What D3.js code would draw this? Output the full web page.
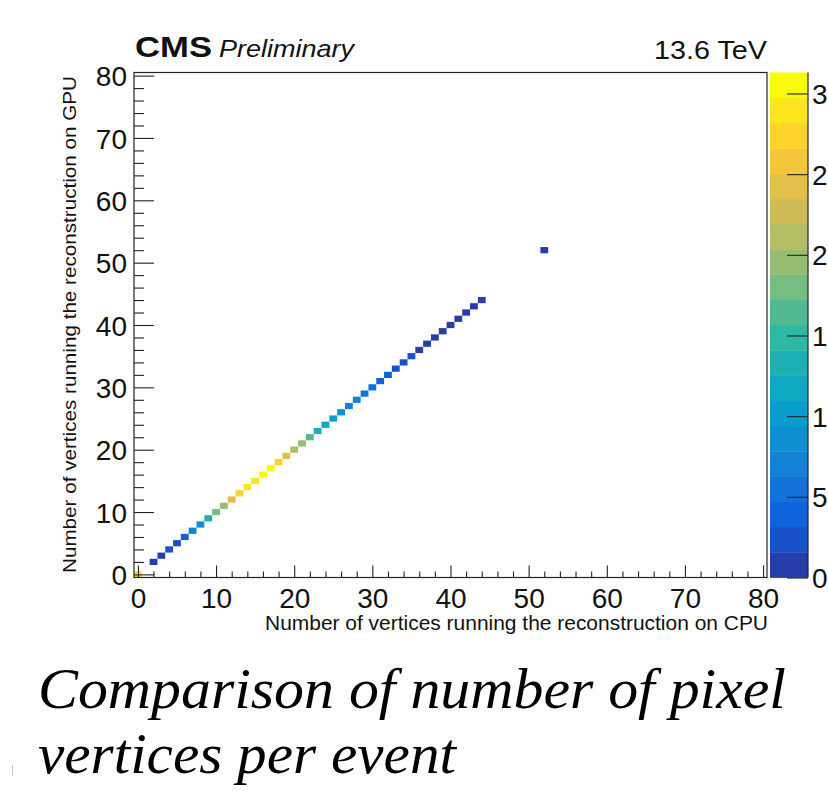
<!DOCTYPE html>
<html>
<head>
<meta charset="utf-8">
<script src="https://cdn.jsdelivr.net/npm/d3@7"></script>
<style>
  html, body { margin: 0; padding: 0; background: #fff; }
  svg { display: block; }
</style>
</head>
<body>
<svg id="chart" width="828" height="791"></svg>
<script>
// ---------------- data ----------------
const cpuBins = [0, 2, 3, 4, 5, 6, 7, 8, 9, 10, 11, 12, 13, 14, 15, 16, 17, 18, 19, 20, 21, 22, 23,
                 24, 25, 26, 27, 28, 29, 30, 31, 32, 33, 34, 35, 36, 37, 38, 39, 40, 41, 42, 43, 44, 52];
const gpuBins = [0, 2, 3, 4, 5, 6, 7, 8, 9, 10, 11, 12, 13, 14, 15, 16, 17, 18, 19, 20, 21, 22, 23,
                 24, 25, 26, 27, 28, 29, 30, 31, 32, 33, 34, 35, 36, 37, 38, 39, 40, 41, 42, 43, 44, 52];
const counts  = [29.5, 0.8, 1.2, 1.8, 2.6, 3.6, 6.7, 8.5, 13.0, 17.5, 19.5, 24.2, 27.5, 29.0, 29.5, 30.5,
                 31.0, 27.8, 24.5, 21.5, 19.6, 16.5, 13.5, 11.8, 10.2, 8.6, 7.2, 6.5, 5.6, 5.0, 4.2,
                 3.3, 2.8, 2.2, 1.7, 1.4, 1.3, 1.2, 1.1, 1.0, 0.9, 0.8, 0.8, 0.7, 0.5];
const xTicks = [0, 10, 20, 30, 40, 50, 60, 70, 80];
const yTicks = [0, 10, 20, 30, 40, 50, 60, 70, 80];
const zTicks = [0, 5, 10, 15, 20, 25, 30];
const zTickLabels = ["0", "5", "10", "15", "20", "25", "30"];
const zMax = 31.3;
const nLevels = 20;
const xTitle = "Number of vertices running the reconstruction on CPU";
const yTitle = "Number of vertices running the reconstruction on GPU";
const captionLines = ["Comparison of number of pixel", "vertices per event"];

// ROOT "kBird" palette
const birdStops = [0, 0.125, 0.25, 0.375, 0.5, 0.625, 0.75, 0.875, 1];
const birdColors = ["#352a87", "#0f5cdd", "#1481d6", "#06a4ca", "#2eb7a4", "#87bf77", "#d1bb59", "#fec832", "#f9fb0e"];

// ---------------- layout ----------------
const SANS = "'Liberation Sans', Arial, Helvetica, sans-serif";
const SERIF = "'Liberation Serif', 'Times New Roman', serif";
const svg = d3.select("#chart");
const L = 134, R = 767, T = 72.5, B = 577.5;
const cbL = 770, cbR = 808;

const x = d3.scaleLinear().domain([-0.5, 80.5]).range([L, R]);
const y = d3.scaleLinear().domain([-0.5, 80.5]).range([B, T]);
const z = d3.scaleLinear().domain([0, zMax]).range([B, T]);
const bird = d3.scaleLinear().domain(birdStops).range(birdColors).interpolate(d3.interpolateRgb);
const levelW = zMax / nLevels;
const levelColor = k => bird((k + 0.99) / nLevels);
const valueColor = v => levelColor(Math.min(nLevels - 1, Math.floor(v / levelW)));

svg.append("rect").attr("width", 828).attr("height", 791).attr("fill", "#fff");

// ---------------- cells ----------------
const cells = cpuBins.map((c, i) => ({ cx: c, cy: gpuBins[i], v: counts[i] }));
svg.append("g").selectAll("rect").data(cells).join("rect")
  .attr("x", d => x(d.cx - 0.5))
  .attr("y", d => y(d.cy + 0.5))
  .attr("width", d => x(d.cx + 0.5) - x(d.cx - 0.5))
  .attr("height", d => y(d.cy - 0.5) - y(d.cy + 0.5))
  .attr("fill", d => valueColor(d.v));

// ---------------- axes ----------------
function styleAxis(g) {
  g.select(".domain").remove();
  g.selectAll("line").attr("stroke", "#222").attr("stroke-width", 1.1);
}
function styleLabels(sel) {
  sel.style("font-family", SANS).style("font-size", "28px").attr("fill", "#111");
}
const xMinor = d3.range(0, 81, 2).filter(v => v % 10 !== 0);
const yMinor = d3.range(0, 81, 2).filter(v => v % 10 !== 0);

svg.append("g").attr("transform", `translate(0,${B})`)
  .call(d3.axisBottom(x).tickValues(xMinor).tickSize(-6).tickFormat(""))
  .call(styleAxis);
const gx = svg.append("g").attr("transform", `translate(0,${B})`)
  .call(d3.axisBottom(x).tickValues(xTicks).tickSize(-12).tickFormat(d3.format("d")))
  .call(styleAxis);
gx.selectAll("text").attr("y", 30).attr("dy", null).call(styleLabels);

svg.append("g").attr("transform", `translate(${L},0)`)
  .call(d3.axisLeft(y).tickValues(yMinor).tickSize(-10).tickFormat(""))
  .call(styleAxis);
const gy = svg.append("g").attr("transform", `translate(${L},0)`)
  .call(d3.axisLeft(y).tickValues(yTicks).tickSize(-20).tickFormat(d3.format("d")))
  .call(styleAxis);
gy.selectAll("text").attr("x", -7).attr("dy", "0.36em").call(styleLabels);

// frame
svg.append("rect").attr("x", L).attr("y", T).attr("width", R - L).attr("height", B - T)
  .attr("fill", "none").attr("stroke", "#222").attr("stroke-width", 1.2);

// ---------------- colour bar ----------------
const bands = d3.range(nLevels);
svg.append("g").selectAll("rect").data(bands).join("rect")
  .attr("x", cbL)
  .attr("width", cbR - cbL)
  .attr("y", k => z((k + 1) * levelW))
  .attr("height", k => z(k * levelW) - z((k + 1) * levelW) + 0.4)
  .attr("fill", k => levelColor(k));

const gz = svg.append("g").attr("transform", `translate(${cbR},0)`)
  .call(d3.axisRight(z).tickValues(zTicks).tickSize(-21).tickFormat((d, i) => zTickLabels[i]));
gz.select(".domain").attr("d", `M0,${T}V${B}`).attr("stroke", "#222").attr("stroke-width", 1.2);
gz.selectAll("line").attr("stroke", "#222").attr("stroke-width", 1.1);
gz.selectAll("text").attr("x", 4).attr("dy", "0.36em").call(styleLabels);

// ---------------- titles ----------------
svg.append("text").attr("x", R + 1).attr("y", 630)
  .attr("text-anchor", "end").style("font-family", SANS).style("font-size", "20px").attr("fill", "#111")
  .attr("textLength", 503).attr("lengthAdjust", "spacingAndGlyphs")
  .text(xTitle);

svg.append("text").attr("transform", `translate(76,76) rotate(-90)`)
  .attr("text-anchor", "end").style("font-family", SANS).style("font-size", "19px").attr("fill", "#111")
  .attr("textLength", 497).attr("lengthAdjust", "spacingAndGlyphs")
  .text(yTitle);

svg.append("text").attr("x", 135).attr("y", 57)
  .style("font-family", SANS).style("font-size", "30px").style("font-weight", "bold").attr("fill", "#111")
  .attr("textLength", 77).attr("lengthAdjust", "spacingAndGlyphs")
  .text("CMS");
svg.append("text").attr("x", 219).attr("y", 57)
  .style("font-family", SANS).style("font-size", "24px").style("font-style", "italic").attr("fill", "#111")
  .attr("textLength", 135).attr("lengthAdjust", "spacingAndGlyphs")
  .text("Preliminary");
svg.append("text").attr("x", 767).attr("y", 59)
  .attr("text-anchor", "end").style("font-family", SANS).style("font-size", "26px").attr("fill", "#111")
  .attr("textLength", 113).attr("lengthAdjust", "spacingAndGlyphs")
  .text("13.6 TeV");

// ---------------- caption ----------------
const capWidths = [748, 418];
const capY = [708, 773];
svg.append("g").selectAll("text").data(captionLines).join("text")
  .attr("x", 38)
  .attr("y", (d, i) => capY[i])
  .style("font-family", SERIF)
  .style("font-style", "italic")
  .style("font-size", "58px")
  .attr("fill", "#000")
  .attr("textLength", (d, i) => capWidths[i])
  .attr("lengthAdjust", "spacingAndGlyphs")
  .text(d => d);

svg.append("line").attr("x1", 12.5).attr("x2", 12.5).attr("y1", 765).attr("y2", 776)
  .attr("stroke", "#c8c8c8").attr("stroke-width", 1);
</script>
</body>
</html>
